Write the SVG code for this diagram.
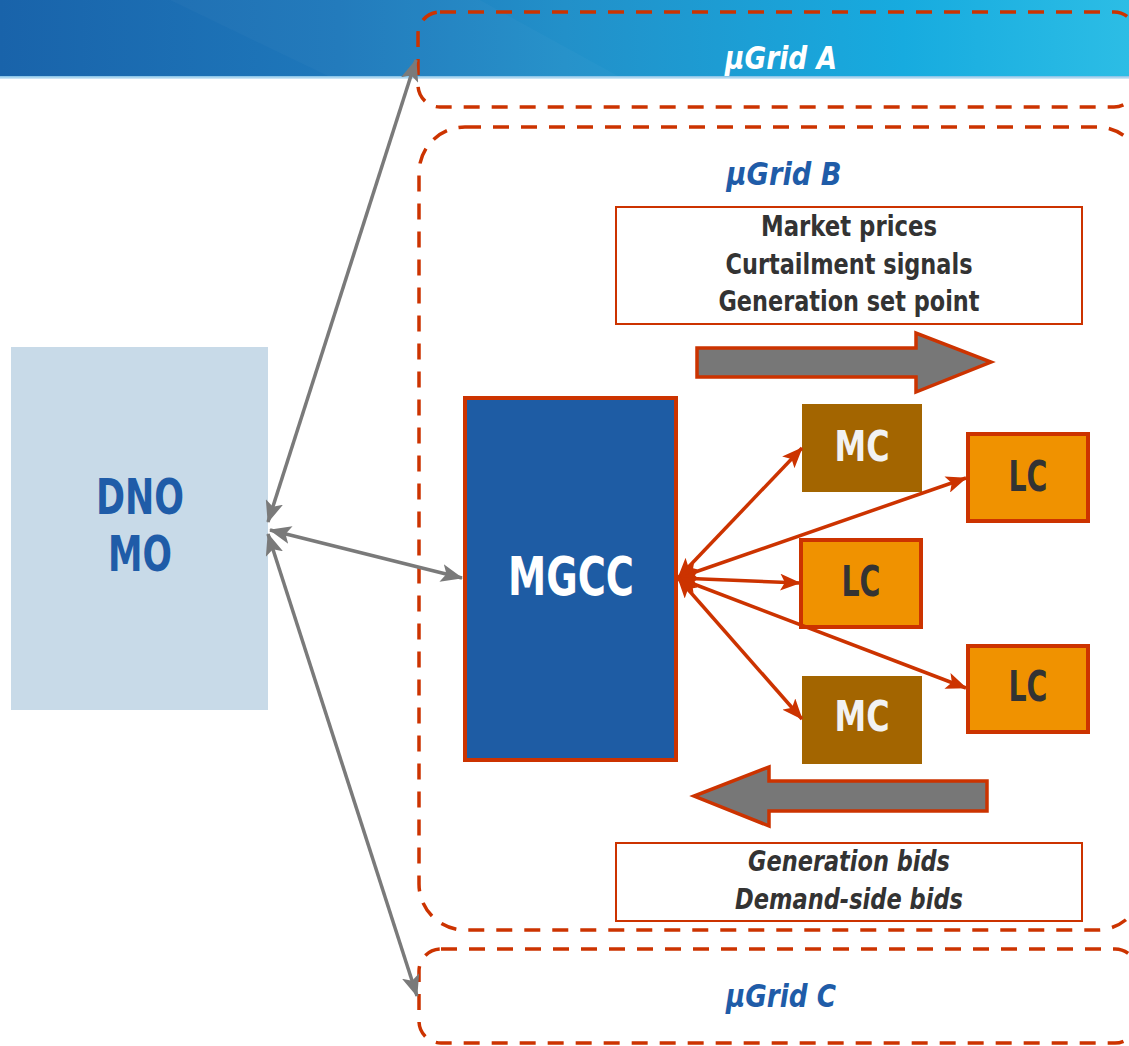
<svg xmlns="http://www.w3.org/2000/svg" width="1129" height="1046" viewBox="0 0 1129 1046">
  <defs>
    <linearGradient id="band" x1="0" y1="0" x2="1" y2="0">
      <stop offset="0" stop-color="#1963aa"/>
      <stop offset="0.3" stop-color="#1e78bb"/>
      <stop offset="0.5" stop-color="#2290c9"/>
      <stop offset="0.8" stop-color="#17abdf"/>
      <stop offset="1" stop-color="#2cbde5"/>
    </linearGradient>
    <linearGradient id="bandEdge" x1="0" y1="0" x2="0" y2="1">
      <stop offset="0" stop-color="#7fbfe6"/>
      <stop offset="1" stop-color="#d8ecf8"/>
    </linearGradient>
    <marker id="grayHead" viewBox="0 0 22 18" refX="21" refY="9" markerWidth="22" markerHeight="18" markerUnits="userSpaceOnUse" orient="auto-start-reverse">
      <path d="M0,0 L22,9 L0,18 L5,9 Z" fill="#7a7a7a"/>
    </marker>
    <marker id="redHead" viewBox="0 0 22 18" refX="21" refY="9" markerWidth="21" markerHeight="17" markerUnits="userSpaceOnUse" orient="auto-start-reverse">
      <path d="M0,0 L22,9 L0,18 L5,9 Z" fill="#cc3300"/>
    </marker>
  </defs>
  <style>
    .txt { font-family: "DejaVu Sans Condensed", "DejaVu Sans", "Liberation Sans", sans-serif; font-stretch: condensed; font-weight: bold; text-anchor: middle; }
    .ital { font-style: italic; }
    .grid { fill: none; stroke: #cc3300; stroke-width: 3.5; stroke-dasharray: 16 12; }
    .gray { stroke: #7a7a7a; stroke-width: 3.5; fill: none; marker-start: url(#grayHead); marker-end: url(#grayHead); }
    .red { stroke: #cc3300; stroke-width: 3.5; fill: none; marker-start: url(#redHead); marker-end: url(#redHead); }
    .mc { fill: #a36500; }
    .lc { fill: #f09200; stroke: #cc3300; stroke-width: 4; }
    .msg { fill: #ffffff; stroke: #cc3300; stroke-width: 2; }
    .bigArrow { fill: #777777; stroke: #cc3300; stroke-width: 3.5; }
  </style>

  <!-- header band -->
  <rect x="0" y="0" width="1129" height="77" fill="url(#band)"/>
  <polygon points="170,0 330,77 620,77 480,0" fill="#ffffff" opacity="0.025"/>
  <rect x="0" y="76" width="1129" height="3" fill="url(#bandEdge)"/>

  <!-- micro-grid regions -->
  <g id="ugrid-a">
    <rect class="grid" x="418" y="12" width="718" height="95" rx="22" ry="22"/>
    <text class="txt ital" x="781" y="69" font-size="32" fill="#ffffff" textLength="112" lengthAdjust="spacingAndGlyphs">μGrid A</text>
  </g>
  <g id="ugrid-b">
    <rect class="grid" x="419" y="127" width="724" height="803" rx="46" ry="46"/>
    <text class="txt ital" x="784" y="185" font-size="32" fill="#1f5ca8" textLength="115" lengthAdjust="spacingAndGlyphs">μGrid B</text>
  </g>
  <g id="ugrid-c">
    <rect class="grid" x="419" y="949" width="718" height="94" rx="22" ry="22"/>
    <text class="txt ital" x="781" y="1007" font-size="32" fill="#1f5ca8" textLength="110" lengthAdjust="spacingAndGlyphs">μGrid C</text>
  </g>

  <!-- operators -->
  <g id="dno-mo">
    <rect x="11" y="347" width="257" height="363" fill="#c8dae8"/>
    <text class="txt" x="140" y="514" font-size="50" fill="#1f5ca8" textLength="88" lengthAdjust="spacingAndGlyphs">DNO</text>
    <text class="txt" x="140" y="571" font-size="50" fill="#1f5ca8" textLength="64" lengthAdjust="spacingAndGlyphs">MO</text>
  </g>

  <g id="mgcc">
    <rect x="465" y="398" width="211" height="362" fill="#1e5ca4" stroke="#cc3300" stroke-width="4"/>
    <text class="txt" x="571" y="595" font-size="53" fill="#ffffff" textLength="126" lengthAdjust="spacingAndGlyphs">MGCC</text>
  </g>

  <!-- messages downstream / upstream -->
  <g id="signals">
    <rect class="msg" x="616" y="207" width="466" height="117"/>
    <text class="txt" x="849" y="236" font-size="29" fill="#333333" textLength="176" lengthAdjust="spacingAndGlyphs">Market prices</text>
    <text class="txt" x="849" y="274" font-size="29" fill="#333333" textLength="247" lengthAdjust="spacingAndGlyphs">Curtailment signals</text>
    <text class="txt" x="849" y="311" font-size="29" fill="#333333" textLength="261" lengthAdjust="spacingAndGlyphs">Generation set point</text>
  </g>
  <g id="bids">
    <rect class="msg" x="616" y="843" width="466" height="78"/>
    <text class="txt ital" x="849" y="871" font-size="29" fill="#333333" textLength="202" lengthAdjust="spacingAndGlyphs">Generation bids</text>
    <text class="txt ital" x="849" y="909" font-size="29" fill="#333333" textLength="228" lengthAdjust="spacingAndGlyphs">Demand-side bids</text>
  </g>

  <g id="flow-down">
    <polygon class="bigArrow" points="697,348 916,348 916,333 991,362 916,392 916,377 697,377"/>
  </g>
  <g id="flow-up">
    <polygon class="bigArrow" points="987,781 769,781 769,767 694,796 769,826 769,811 987,811"/>
  </g>

  <!-- local controllers -->
  <g id="mc-1">
    <rect class="mc" x="802" y="404" width="120" height="88"/>
    <text class="txt" x="862" y="461" font-size="43" fill="#f2f2f2" textLength="55" lengthAdjust="spacingAndGlyphs">MC</text>
  </g>
  <g id="lc-1">
    <rect class="lc" x="968" y="434" width="120" height="87"/>
    <text class="txt" x="1028" y="491" font-size="43" fill="#333333" textLength="39" lengthAdjust="spacingAndGlyphs">LC</text>
  </g>
  <g id="lc-2">
    <rect class="lc" x="801" y="540" width="120" height="87"/>
    <text class="txt" x="861" y="596" font-size="43" fill="#333333" textLength="39" lengthAdjust="spacingAndGlyphs">LC</text>
  </g>
  <g id="lc-3">
    <rect class="lc" x="968" y="646" width="120" height="86"/>
    <text class="txt" x="1028" y="701" font-size="43" fill="#333333" textLength="39" lengthAdjust="spacingAndGlyphs">LC</text>
  </g>
  <g id="mc-2">
    <rect class="mc" x="802" y="676" width="120" height="88"/>
    <text class="txt" x="862" y="731" font-size="43" fill="#f2f2f2" textLength="55" lengthAdjust="spacingAndGlyphs">MC</text>
  </g>

  <!-- connectors -->
  <g id="connectors">
    <line class="gray" x1="268" y1="522" x2="416" y2="60"/>
    <line class="gray" x1="270" y1="530" x2="462" y2="578"/>
    <line class="gray" x1="268" y1="534" x2="417" y2="996"/>
    <line class="red" x1="678" y1="578" x2="802" y2="448"/>
    <line class="red" x1="678" y1="578" x2="966" y2="478"/>
    <line class="red" x1="678" y1="578" x2="800" y2="583"/>
    <line class="red" x1="678" y1="578" x2="966" y2="688"/>
    <line class="red" x1="678" y1="578" x2="802" y2="719"/>
  </g>
</svg>
